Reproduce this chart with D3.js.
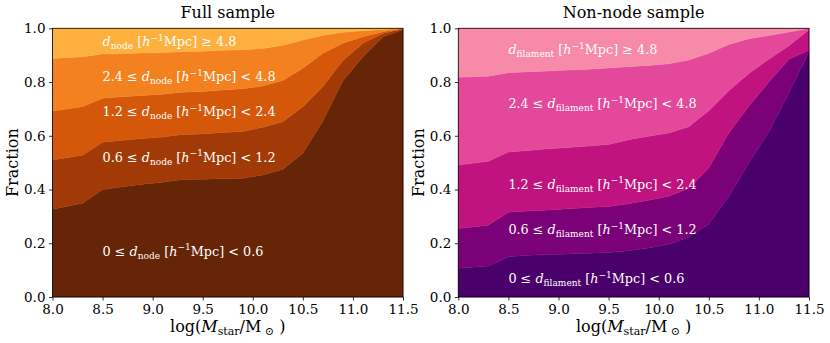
<!DOCTYPE html>
<html><head><meta charset="utf-8">
<script src="https://cdn.jsdelivr.net/npm/d3@7"></script>
<style>body{margin:0;background:#fff} svg{display:block}</style>
</head><body><svg id="c" width="830" height="343"></svg>
<script>
// ---------------- DATA ----------------
const logMstar = [8.0,8.3,8.5,8.7,8.9,9.1,9.3,9.5,9.7,9.9,10.1,10.3,10.5,10.7,10.9,11.1,11.3,11.5];

// Full sample: fraction of galaxies per d_node bin
const full_0_06   = [0.327,0.349,0.400,0.410,0.420,0.427,0.437,0.438,0.440,0.442,0.454,0.475,0.535,0.655,0.805,0.894,0.969,0.995];
const full_06_12  = [0.183,0.179,0.176,0.173,0.170,0.168,0.168,0.169,0.172,0.174,0.178,0.177,0.173,0.128,0.075,0.050,0.012,0.003];
const full_12_24  = [0.182,0.180,0.164,0.162,0.160,0.160,0.157,0.158,0.158,0.159,0.153,0.154,0.143,0.124,0.064,0.025,0.006,0.001];
const full_24_48  = [0.196,0.186,0.164,0.161,0.158,0.155,0.151,0.150,0.148,0.145,0.140,0.131,0.105,0.067,0.041,0.022,0.009,0.001];
const full_48_inf = [0.112,0.106,0.096,0.094,0.092,0.090,0.087,0.085,0.082,0.080,0.075,0.063,0.044,0.026,0.015,0.009,0.004,0.000];

// Non-node sample: fraction of galaxies per d_filament bin
const nonnode_0_06   = [0.107,0.115,0.150,0.155,0.158,0.160,0.163,0.166,0.172,0.182,0.196,0.222,0.272,0.375,0.500,0.615,0.760,0.913];
const nonnode_06_12  = [0.148,0.152,0.165,0.165,0.166,0.168,0.170,0.171,0.175,0.178,0.179,0.182,0.208,0.235,0.210,0.185,0.125,0.005];
const nonnode_12_24  = [0.236,0.238,0.225,0.225,0.228,0.228,0.229,0.231,0.238,0.238,0.235,0.230,0.213,0.158,0.122,0.085,0.050,0.077];
const nonnode_24_48  = [0.327,0.317,0.295,0.293,0.289,0.289,0.286,0.284,0.272,0.264,0.258,0.248,0.214,0.172,0.129,0.088,0.051,0.005];
const nonnode_48_inf = [0.182,0.178,0.165,0.162,0.159,0.155,0.152,0.148,0.143,0.138,0.132,0.118,0.093,0.060,0.039,0.027,0.014,0.000];

const xTickValues = [8.0,8.5,9.0,9.5,10.0,10.5,11.0,11.5];
const yTickValues = [0.0,0.2,0.4,0.6,0.8,1.0];
const panelTitles = ["Full sample","Non-node sample"];
const distNames = ["node","filament"];
const binLower = ["0","0.6","1.2","2.4",null];
const binUpper = ["0.6","1.2","2.4","4.8","4.8"];

// ---------------- STYLE / LAYOUT ----------------
const keys = ["b0","b1","b2","b3","b4"];
const panelColors = [
  ["#662506","#a13a06","#d5570a","#f4811f","#feb03f"],
  ["#49006a","#7a0177","#c0137f","#e4489a","#f88aa9"]
];
const labelY = [
  [0.17,0.52,0.69,0.82,0.95],
  [0.068,0.25,0.42,0.72,0.92]
];
const labelX = 8.5;
const panelsGeo = [{x0:52.5,x1:403},{x0:458.3,x1:809}];
const yTop = 28.3, yBot = 297;
const serif = "'DejaVu Serif', serif";

const datasets = [
  [full_0_06,full_06_12,full_12_24,full_24_48,full_48_inf],
  [nonnode_0_06,nonnode_06_12,nonnode_12_24,nonnode_24_48,nonnode_48_inf]
];

const svg = d3.select("#c");

datasets.forEach((series, p) => {
  const geo = panelsGeo[p];
  const x = d3.scaleLinear().domain([8.0,11.5]).range([geo.x0, geo.x1]);
  const y = d3.scaleLinear().domain([0,1]).range([yBot, yTop]);
  const table = logMstar.map((m,i) => {
    const row = {m};
    keys.forEach((k,j) => row[k] = series[j][i]);
    return row;
  });
  const stacked = d3.stack().keys(keys)(table);
  const area = d3.area().x(d => x(d.data.m)).y0(d => y(d[0])).y1(d => y(Math.min(1,d[1])));
  const g = svg.append("g");
  g.selectAll("path.band").data(stacked).join("path")
    .attr("class","band")
    .attr("d", area)
    .attr("fill", (d,i) => panelColors[p][i])
    .attr("stroke", (d,i) => panelColors[p][i])
    .attr("stroke-width", 0.4);

  // labels
  keys.forEach((k,i) => {
    const t = g.append("text")
      .attr("x", x(labelX)).attr("y", y(labelY[p][i]) + 4.5)
      .attr("fill", "#fff").attr("font-family", serif).attr("font-size", 12.8);
    if (binLower[i] !== null) t.append("tspan").text(binLower[i] + " ≤ ");
    t.append("tspan").attr("font-style","italic").text("d");
    t.append("tspan").attr("font-size", 9).attr("dy", 3).text(distNames[p]);
    t.append("tspan").attr("dy", -3).text(" [");
    t.append("tspan").attr("font-style","italic").text("h");
    t.append("tspan").attr("font-size", 9).attr("dy", -5.5).text("−1");
    t.append("tspan").attr("dy", 5.5).text("Mpc] " + (binLower[i] !== null ? "< " : "≥ ") + binUpper[i]);
  });

  // spines
  g.append("rect").attr("x", geo.x0).attr("y", yTop)
    .attr("width", geo.x1-geo.x0).attr("height", yBot-yTop)
    .attr("fill","none").attr("stroke","#000").attr("stroke-width",0.8);

  // axes
  const xAxis = d3.axisBottom(x).tickValues(xTickValues).tickFormat(d3.format(".1f"))
    .tickSize(3.5).tickPadding(3.5).tickSizeOuter(0);
  const yAxis = d3.axisLeft(y).tickValues(yTickValues).tickFormat(d3.format(".1f"))
    .tickSize(3.5).tickPadding(3.5).tickSizeOuter(0);
  const gx = g.append("g").attr("transform",`translate(0,${yBot})`).call(xAxis);
  const gy = g.append("g").attr("transform",`translate(${geo.x0},0)`).call(yAxis);
  [gx,gy].forEach(a => {
    a.attr("font-family", serif).attr("font-size", 13.5);
    a.select(".domain").remove();
    a.selectAll("line").attr("stroke","#000").attr("stroke-width",0.8);
    a.selectAll("text").attr("font-family", serif).attr("font-size", 13.5).attr("fill","#000");
  });

  // title
  g.append("text").attr("x",(geo.x0+geo.x1)/2).attr("y",18)
    .attr("text-anchor","middle").attr("font-family",serif).attr("font-size",16)
    .text(panelTitles[p]);

  // x label
  const xl = g.append("text").attr("x",(geo.x0+geo.x1)/2).attr("y",332)
    .attr("text-anchor","middle").attr("font-family",serif).attr("font-size",16);
  xl.append("tspan").text("log(");
  xl.append("tspan").attr("font-style","italic").text("M");
  xl.append("tspan").attr("font-size",11).attr("dy",3).text("star");
  xl.append("tspan").attr("dy",-3).text("/M");
  xl.append("tspan").attr("font-size",11).attr("dy",3).text(" ⊙");
  xl.append("tspan").attr("dy",-3).text(" )");

  // y label
  g.append("text")
    .attr("transform",`translate(${geo.x0-40},${(yTop+yBot)/2}) rotate(-90)`)
    .attr("text-anchor","middle").attr("font-family",serif).attr("font-size",16)
    .attr("dy","0.35em")
    .text("Fraction");
});
</script>
</body></html>
